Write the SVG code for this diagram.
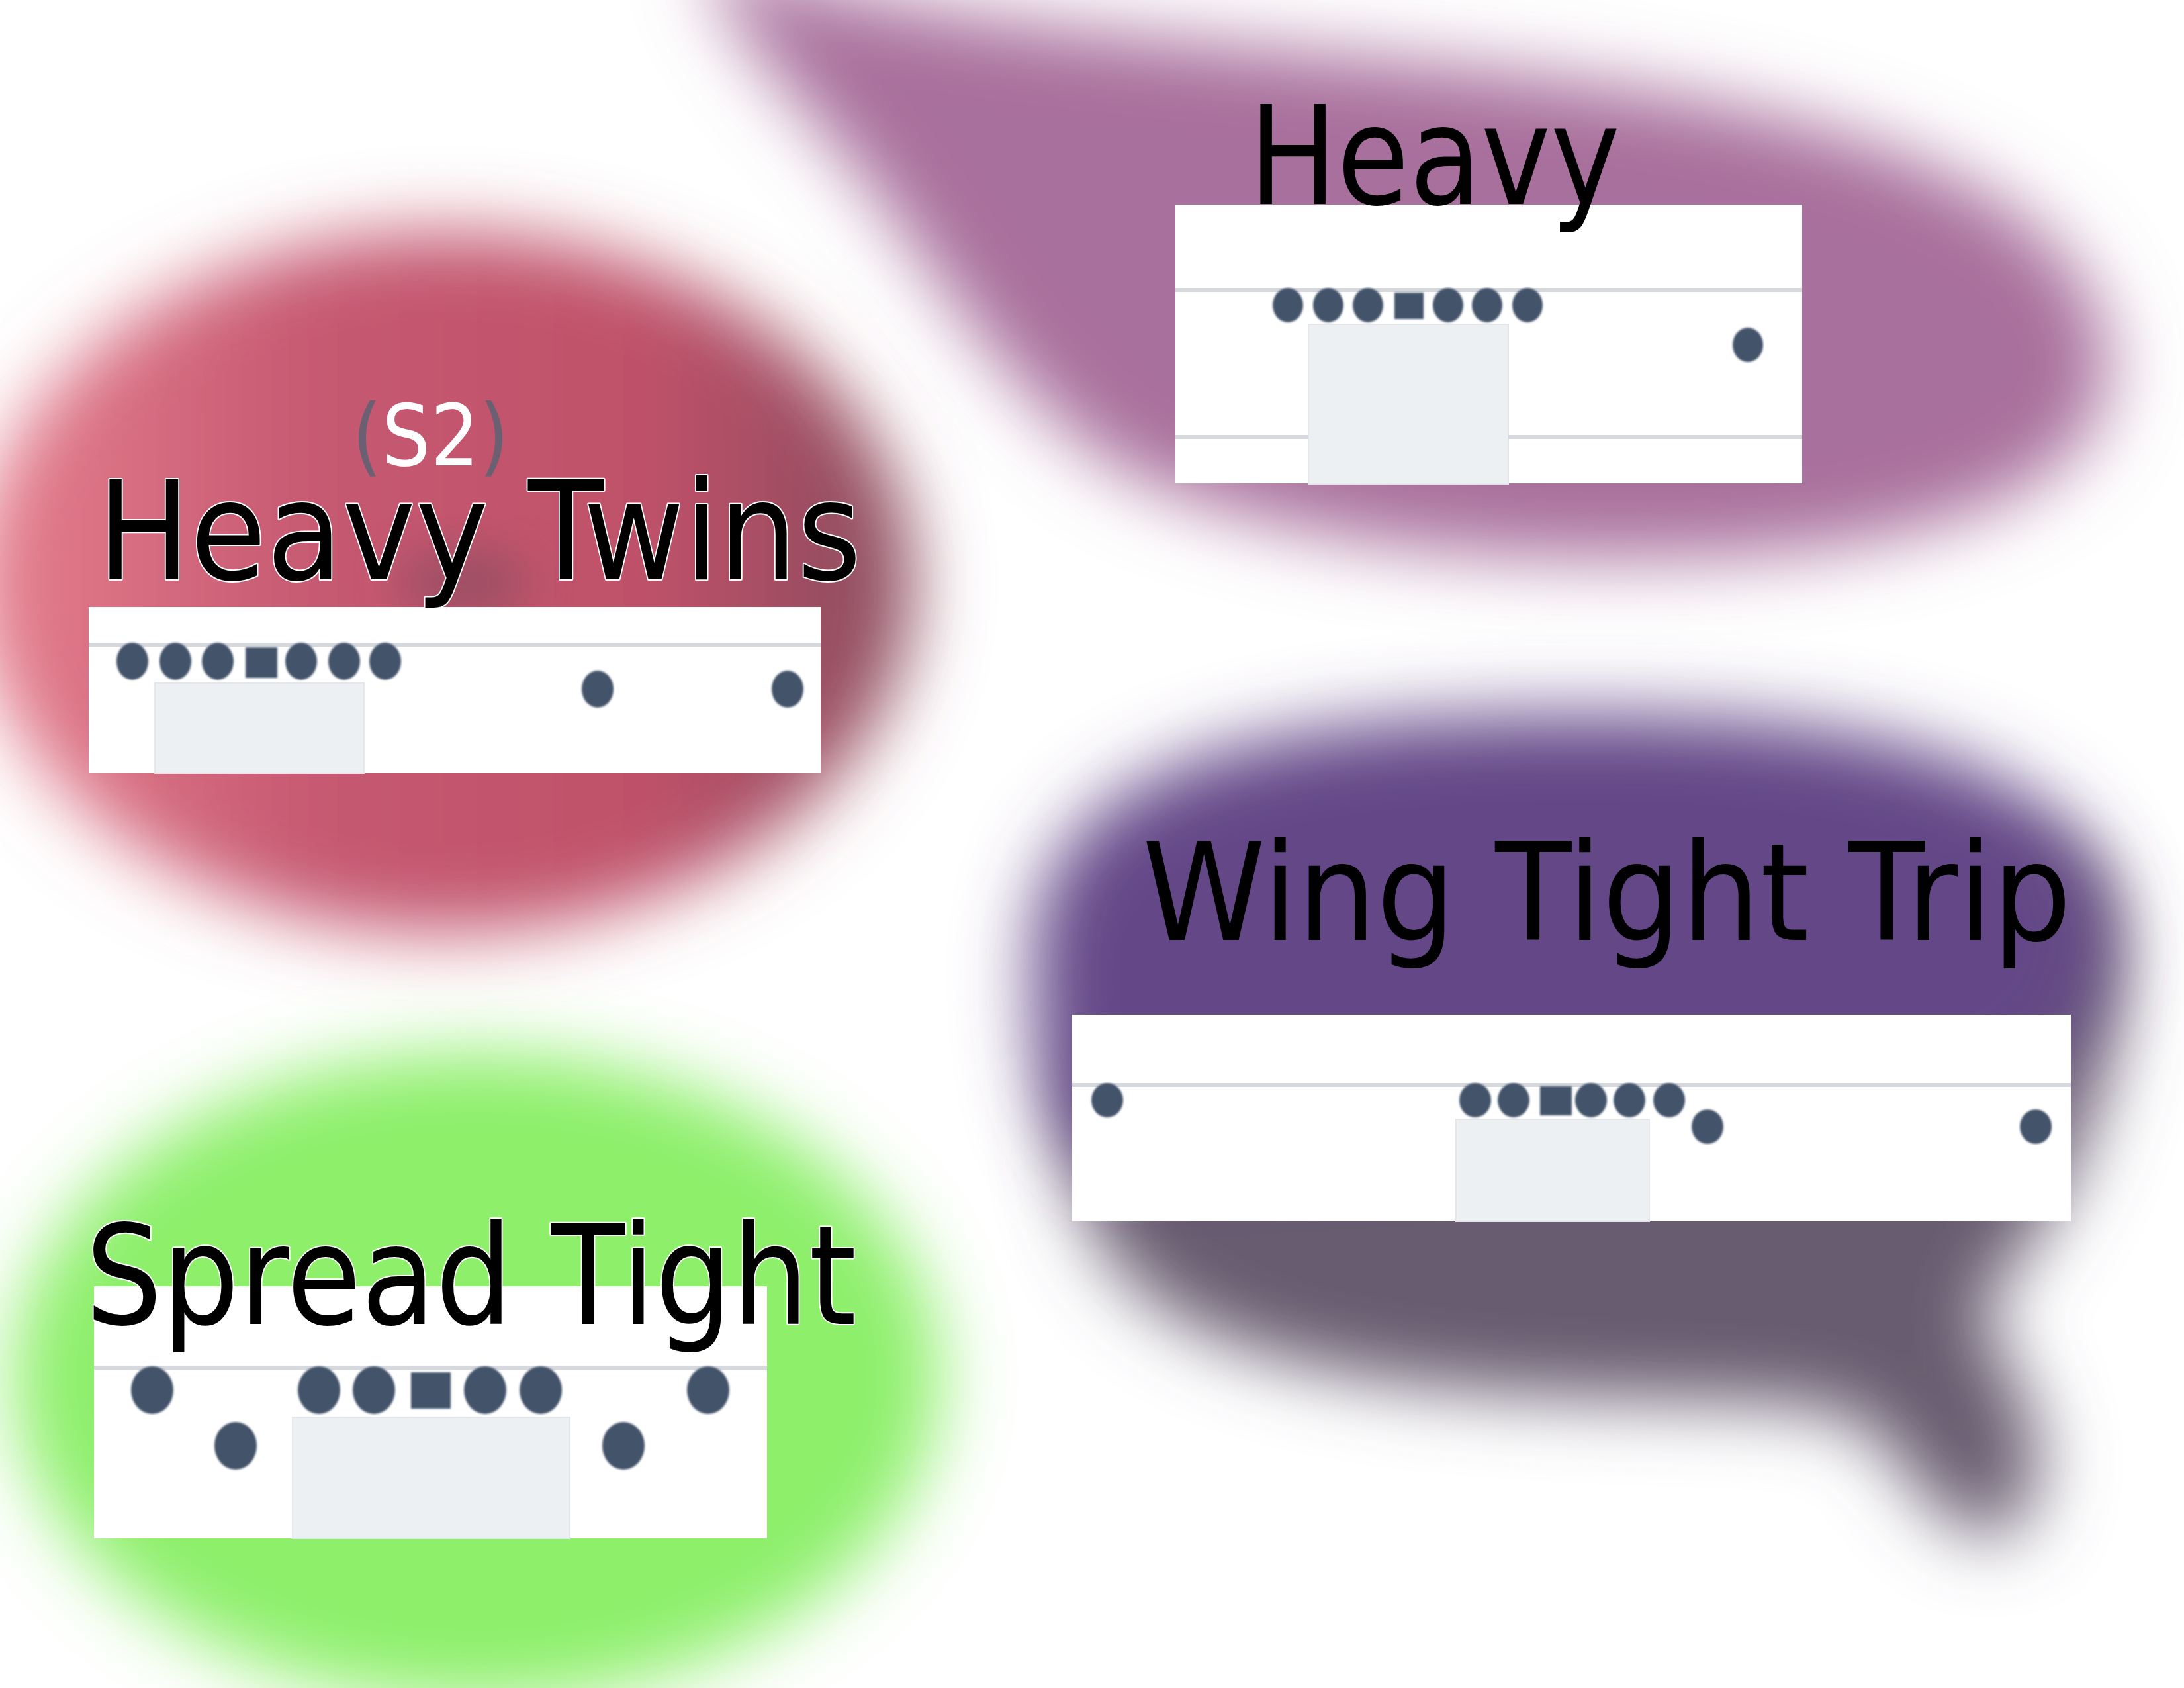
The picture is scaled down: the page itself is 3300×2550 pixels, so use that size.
<svg xmlns="http://www.w3.org/2000/svg" width="3300" height="2550" viewBox="0 0 3300 2550">
<style>
.lbl{font-family:"DejaVu Sans","Liberation Sans",sans-serif;fill:#000}
.out{stroke:#fff;stroke-width:4;paint-order:stroke;stroke-linejoin:round}
.box{fill:#fff}
.yard{stroke:#d5d9de;stroke-width:6}
.zone{fill:#edf0f2;stroke:#e3e7ea;stroke-width:2}
.dot{fill:#43536a}
</style>
<defs>
<filter id="blur" x="-30%" y="-30%" width="160%" height="160%"><feGaussianBlur stdDeviation="55"/></filter>
<filter id="blur2" x="-50%" y="-50%" width="200%" height="200%"><feGaussianBlur stdDeviation="35"/></filter>
<filter id="soft" x="-20%" y="-20%" width="140%" height="140%"><feGaussianBlur stdDeviation="1.5"/></filter>
<linearGradient id="pinkg" x1="0" y1="0" x2="1" y2="0">
<stop offset="0" stop-color="#e6808f"/>
<stop offset="0.35" stop-color="#c65a72"/>
<stop offset="0.72" stop-color="#bf5169"/>
<stop offset="0.97" stop-color="#8c4c5e"/>
</linearGradient>
</defs>
<rect width="3300" height="2550" fill="#fff"/>
<g id="blobs">
<path filter="url(#blur)" fill="#a8709c" d="M1060,-80 C1300,30 1700,50 2200,100 C2700,150 3110,250 3180,500 C3230,700 3000,820 2600,840 C2200,860 1850,800 1680,700 C1500,580 1400,380 1280,240 C1180,120 1090,40 1060,-80 Z"/>
<ellipse filter="url(#blur)" cx="670" cy="880" rx="710" ry="530" fill="url(#pinkg)"/>
<ellipse filter="url(#blur2)" cx="700" cy="880" rx="100" ry="50" fill="#7a4a5a" opacity="0.55"/>
<ellipse filter="url(#blur)" cx="720" cy="2080" rx="700" ry="490" fill="#8def6b"/>
<path filter="url(#blur)" fill="#675c70" d="M1620,1750 C1650,2000 1900,2090 2400,2110 C2650,2120 2780,2110 2840,2170 C2900,2250 2960,2330 3020,2320 C3080,2300 3090,2220 3070,2140 C3040,2060 2990,2010 3000,1960 C3080,1880 3200,1700 3200,1450 C3200,1300 3100,1250 3000,1300 L1620,1600 Z"/>
<path filter="url(#blur)" fill="#644687" d="M1560,1450 C1560,1200 1800,1090 2300,1080 C2800,1070 3150,1140 3180,1380 C3190,1550 3100,1640 2900,1680 L1640,1760 C1580,1700 1560,1600 1560,1450 Z"/>
</g>
<g id="connectors"/>
<g id="node-heavy">
<rect class="box" x="1776" y="309" width="947" height="421"/>
<rect class="zone" x="1977" y="490" width="302" height="241"/>
<line class="yard" x1="1776" y1="438" x2="2723" y2="438"/>
<line class="yard" x1="1776" y1="660" x2="1977" y2="660"/>
<line class="yard" x1="2279" y1="660" x2="2723" y2="660"/>
<g filter="url(#soft)">
<ellipse class="dot" cx="1946" cy="461" rx="23" ry="26"/>
<ellipse class="dot" cx="2007" cy="461" rx="23" ry="26"/>
<ellipse class="dot" cx="2067" cy="461" rx="23" ry="26"/>
<rect class="dot" x="2107" y="442" width="44" height="40"/>
<ellipse class="dot" cx="2188" cy="461" rx="23" ry="26"/>
<ellipse class="dot" cx="2247" cy="461" rx="23" ry="26"/>
<ellipse class="dot" cx="2308" cy="461" rx="23" ry="26"/>
<ellipse class="dot" cx="2641" cy="521" rx="23" ry="26"/>
</g>
<text class="lbl" x="1887" y="308" font-size="206" textLength="561" lengthAdjust="spacingAndGlyphs">Heavy</text>
</g>
<g id="node-heavy-twins">
<rect class="box" x="134" y="917" width="1106" height="251"/>
<rect class="zone" x="234" y="1032" width="316" height="136"/>
<line class="yard" x1="134" y1="974" x2="1240" y2="974"/>
<g filter="url(#soft)">
<ellipse class="dot" cx="200" cy="999" rx="24" ry="28"/>
<ellipse class="dot" cx="265" cy="999" rx="24" ry="28"/>
<ellipse class="dot" cx="329" cy="999" rx="24" ry="28"/>
<rect class="dot" x="371" y="978" width="48" height="46"/>
<ellipse class="dot" cx="455" cy="999" rx="24" ry="28"/>
<ellipse class="dot" cx="520" cy="999" rx="24" ry="28"/>
<ellipse class="dot" cx="582" cy="999" rx="24" ry="28"/>
<ellipse class="dot" cx="903" cy="1041" rx="24" ry="28"/>
<ellipse class="dot" cx="1190" cy="1041" rx="24" ry="28"/>
</g>
<text class="lbl" x="532" y="703" font-size="128" textLength="237" lengthAdjust="spacingAndGlyphs"><tspan fill="#6b6072">(</tspan><tspan fill="#fff">S2</tspan><tspan fill="#6b6072">)</tspan></text>
<text class="lbl out" x="147" y="875" font-size="206" textLength="1155" lengthAdjust="spacingAndGlyphs">Heavy Twins</text>
</g>
<g id="node-wing-tight-trip">
<rect class="box" x="1620" y="1533" width="1509" height="312"/>
<rect class="zone" x="2200" y="1691" width="292" height="154"/>
<line class="yard" x1="1620" y1="1639" x2="3129" y2="1639"/>
<g filter="url(#soft)">
<ellipse class="dot" cx="1673" cy="1662" rx="24" ry="26"/>
<ellipse class="dot" cx="2229" cy="1662" rx="24" ry="26"/>
<ellipse class="dot" cx="2287" cy="1662" rx="24" ry="26"/>
<rect class="dot" x="2327" y="1641" width="48" height="44"/>
<ellipse class="dot" cx="2404" cy="1662" rx="24" ry="26"/>
<ellipse class="dot" cx="2462" cy="1662" rx="24" ry="26"/>
<ellipse class="dot" cx="2522" cy="1662" rx="24" ry="26"/>
<ellipse class="dot" cx="2580" cy="1702" rx="24" ry="26"/>
<ellipse class="dot" cx="3076" cy="1702" rx="24" ry="26"/>
</g>
<text class="lbl" x="1726" y="1420" font-size="205" textLength="1404" lengthAdjust="spacingAndGlyphs">Wing Tight Trip</text>
</g>
<g id="node-spread-tight">
<rect class="box" x="142" y="1943" width="1017" height="381"/>
<rect class="zone" x="442" y="2141" width="419" height="183"/>
<line class="yard" x1="142" y1="2066" x2="1159" y2="2066"/>
<g filter="url(#soft)">
<ellipse class="dot" cx="230" cy="2100" rx="32" ry="36"/>
<ellipse class="dot" cx="482" cy="2100" rx="32" ry="36"/>
<ellipse class="dot" cx="565" cy="2100" rx="32" ry="36"/>
<rect class="dot" x="621" y="2073" width="60" height="55"/>
<ellipse class="dot" cx="733" cy="2100" rx="32" ry="36"/>
<ellipse class="dot" cx="817" cy="2100" rx="32" ry="36"/>
<ellipse class="dot" cx="1070" cy="2100" rx="32" ry="36"/>
<ellipse class="dot" cx="356" cy="2184" rx="32" ry="36"/>
<ellipse class="dot" cx="942" cy="2184" rx="32" ry="36"/>
</g>
<text class="lbl out" x="129" y="2000" font-size="208" textLength="1165" lengthAdjust="spacingAndGlyphs">Spread Tight</text>
</g>
</svg>
